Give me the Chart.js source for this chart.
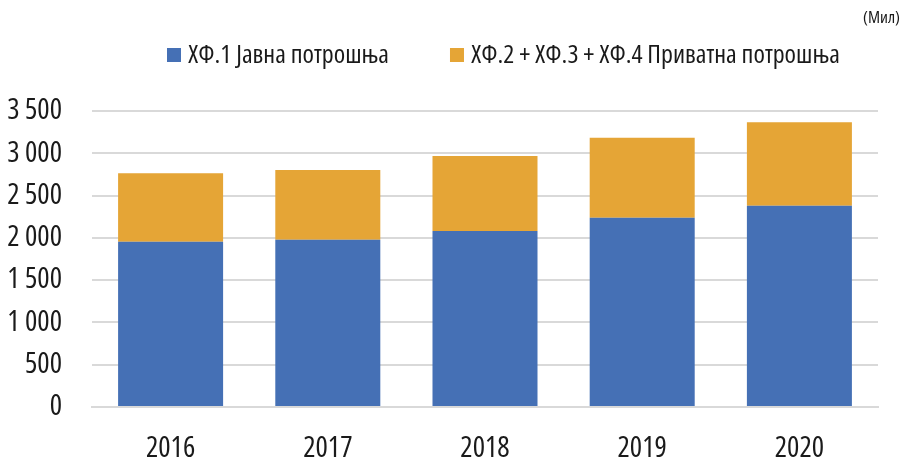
<!DOCTYPE html>
<html>
<head>
<meta charset="utf-8">
<script src="https://cdn.jsdelivr.net/npm/chart.js@4"></script>
<style>
  body { margin: 0; background: #fff; }
  #wrap { width: 909px; height: 460px; }
</style>
</head>
<body>
<div id="wrap"><canvas id="chart"></canvas></div>
<script>
const years = ['2016', '2017', '2018', '2019', '2020'];
const publicSpending = [1955, 1978, 2081, 2238, 2380];
const privateSpending = [808, 824, 887, 947, 986];
const seriesNames = ['ХФ.1 Јавна потрошња', 'ХФ.2 + ХФ.3 + ХФ.4 Приватна потрошња'];
const seriesColors = ['#4570b5', '#e5a536'];
const unitLabel = '(Мил)';

const TEXT = '#1a1a1a';

// the original uses a condensed face; take the first narrow one that is installed
function pickFont() {
    const c = document.createElement('canvas').getContext('2d');
    const width = f => { c.font = f; return c.measureText('2016 ХФ.1 Јавна').width; };
    const base = width('28px "Liberation Sans"');
    const tries = [
        { weight: 'normal', family: '"Liberation Sans Narrow"' },
        { weight: 'condensed', family: '"DejaVu Sans"' },
        { weight: 'normal', family: '"DejaVu Sans Condensed"' },
        { weight: 'condensed', family: '"Noto Sans"' },
        { weight: 'condensed', family: '"Open Sans"' },
        { weight: 'condensed', family: 'Roboto' }
    ];
    let pick = { weight: 'normal', family: '"Liberation Sans"' };
    for (const t of tries) {
        if (width(t.weight + ' 28px ' + t.family + ', "Liberation Sans"') < base * 0.9) { pick = t; break; }
    }
    pick.family += ', "Liberation Sans", sans-serif';
    c.font = pick.weight + ' 28px ' + pick.family;
    const clamp = v => Math.max(16, Math.min(30, v));
    pick.size = clamp(Math.round(28 * 49 / c.measureText('2016').width));
    pick.legendSize = clamp(Math.round(28 * 204 / c.measureText(seriesNames[0]).width));
    pick.unitSize = clamp(Math.round(28 * 38 / c.measureText(unitLabel).width));
    return pick;
}
const F = pickFont();
const font = size => ({ family: F.family, weight: F.weight, size: size });
const fontStr = size => F.weight + ' ' + size + 'px ' + F.family;

// legend row and unit note, placed like the original
const headerPlugin = {
    id: 'header',
    afterDraw(chart) {
        const ctx = chart.ctx;
        ctx.save();
        ctx.fillStyle = TEXT;
        ctx.textBaseline = 'middle';
        ctx.textAlign = 'right';
        ctx.font = fontStr(F.unitSize);
        ctx.fillText(unitLabel, 900, 18);

        ctx.textAlign = 'left';
        ctx.font = fontStr(F.legendSize);
        let x = 167;
        chart.data.datasets.forEach(ds => {
            ctx.fillStyle = ds.backgroundColor;
            ctx.fillRect(x, 48, 14, 14);
            ctx.fillStyle = TEXT;
            ctx.fillText(ds.label, x + 21, 56);
            x += 21 + ctx.measureText(ds.label).width + 61;
        });
        ctx.restore();
    }
};

const ctx = document.getElementById('chart').getContext('2d');
new Chart(ctx, {
    type: 'bar',
    data: {
        labels: years,
        datasets: [{
            label: seriesNames[0],
            data: publicSpending,
            backgroundColor: seriesColors[0]
        }, {
            label: seriesNames[1],
            data: privateSpending,
            backgroundColor: seriesColors[1]
        }]
    },
    options: {
        responsive: true,
        maintainAspectRatio: false,
        animation: false,
        layout: { padding: { left: 0, right: 31, top: 111, bottom: 0 } },
        datasets: { bar: { categoryPercentage: 0.668, barPercentage: 1 } },
        plugins: {
            legend: { display: false },
            tooltip: { enabled: false }
        },
        scales: {
            x: {
                stacked: true,
                grid: { display: false, drawTicks: false },
                border: { color: '#d9d9d9', width: 2 },
                ticks: { color: TEXT, font: font(F.size), padding: 24 },
                afterFit: s => { s.height = 53; }
            },
            y: {
                stacked: true,
                min: 0,
                max: 3500,
                border: { display: false },
                grid: { color: '#d9d9d9', lineWidth: 2, drawTicks: false },
                ticks: {
                    stepSize: 500,
                    color: TEXT,
                    padding: 30,
                    font: font(F.size),
                    callback: v => v.toLocaleString('en-US').replace(',', ' ')
                },
                afterFit: s => { s.width = 92; }
            }
        }
    },
    plugins: [headerPlugin]
});
</script>
</body>
</html>
